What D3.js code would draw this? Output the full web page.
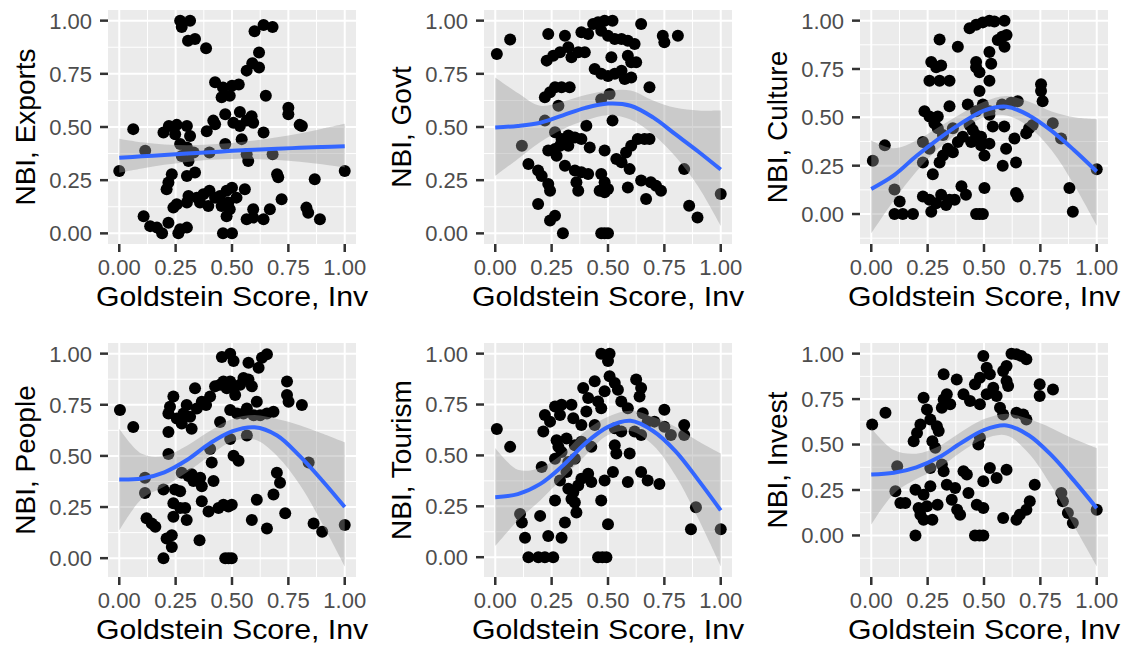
<!DOCTYPE html>
<meta charset="utf-8">
<head>
<script src="https://cdn.jsdelivr.net/npm/d3@7"></script>
<style>
body { margin: 0; background: #fff; font-family: "Liberation Sans", Arial, sans-serif; }
.tick-label { fill: #4d4d4d; font-size: 22px; }
.axis-title { fill: #000; font-size: 28px; }
</style>
</head>
<body>
<script>

var smoothX = [0, 0.1, 0.2, 0.3, 0.4, 0.5, 0.6, 0.7, 0.8, 0.9, 1.0];
var majorBreaks = [0, 0.25, 0.5, 0.75, 1];
var tickLabels = ["0.00", "0.25", "0.50", "0.75", "1.00"];

// --- Exports
var ptsExports = [[0.27,1],[0.314,1],[0.277,0.97],[0.305,0.906],[0.336,0.914],[0.385,0.87],
  [0.60,0.95],[0.64,0.98],[0.68,0.97],[0.62,0.85],[0.59,0.80],[0.62,0.78],[0.565,0.765],
  [0.425,0.71],[0.46,0.686],[0.50,0.694],[0.53,0.70],[0.454,0.64],[0.49,0.647],[0.65,0.647],
  [0.75,0.59],[0.75,0.56],[0.80,0.51],
  [0.47,0.56],[0.535,0.57],[0.587,0.55],[0.565,0.53],[0.417,0.53],[0.255,0.51],[0.30,0.505],[0.22,0.505],[0.062,0.49],
  [0.196,0.474],[0.248,0.466],[0.314,0.458],[0.388,0.48],[0.425,0.513],[0.506,0.52],[0.535,0.505],[0.594,0.52],[0.64,0.474],[0.81,0.505],
  [0.115,0.388],[0.27,0.42],[0.30,0.404],[0.277,0.364],[0.33,0.38],[0.307,0.34],[0.40,0.38],[0.47,0.42],[0.543,0.443],[0.572,0.34],[0.565,0.372],[0.68,0.372],
  [0,0.293],[1,0.293],[0.70,0.278],[0.705,0.264],[0.867,0.254],
  [0.233,0.278],[0.30,0.27],[0.336,0.286],[0.218,0.239],[0.21,0.207],[0.255,0.137],[0.24,0.121],[0.30,0.145],[0.307,0.176],[0.344,0.168],
  [0.373,0.184],[0.40,0.20],[0.425,0.168],[0.447,0.176],[0.476,0.20],[0.50,0.215],[0.52,0.168],[0.557,0.207],[0.358,0.145],[0.395,0.129],
  [0.454,0.129],[0.484,0.145],[0.49,0.113],[0.476,0.081],[0.72,0.16],[0.83,0.121],[0.838,0.097],[0.89,0.066],[0.108,0.081],[0.137,0.034],
  [0.167,0.027],[0.19,0],[0.218,0.05],[0.27,0.019],[0.30,0.027],[0.262,0],[0.46,0],[0.50,0],[0.594,0.113],[0.594,0.074],
  [0.64,0.066],[0.668,0.113],[0.565,0.066]];
var fitExports = [0.355,0.362,0.368,0.375,0.381,0.388,0.393,0.398,0.402,0.406,0.41];
var loExports  = [0.285,0.305,0.322,0.336,0.346,0.35,0.35,0.345,0.337,0.325,0.31];
var hiExports  = [0.445,0.428,0.418,0.414,0.418,0.425,0.436,0.452,0.47,0.492,0.515];

// --- Govt
var ptsGovt = [[0.007,0.843],[0.066,0.911],[0.118,0.412],[0.147,0.326],[0.19,0.295],[0.206,0.27],[0.235,0.232],[0.243,0.20],[0.19,0.138],
  [0.243,0.06],[0.265,0.083],[0.30,0],[0.22,0.64],[0.243,0.663],[0.265,0.687],[0.294,0.687],[0.33,0.687],[0.235,0.937],[0.228,0.812],
  [0.257,0.835],[0.287,0.851],[0.309,0.929],[0.324,0.875],[0.338,0.828],[0.368,0.851],[0.397,0.851],[0.382,0.945],[0.412,0.937],
  [0.434,0.984],[0.456,0.992],[0.485,1],[0.52,1],[0.47,0.953],[0.50,0.929],[0.53,0.914],[0.56,0.914],[0.588,0.906],[0.618,0.89],
  [0.647,0.984],[0.515,0.828],[0.588,0.835],[0.603,0.804],[0.625,0.804],[0.441,0.773],[0.47,0.75],[0.50,0.74],[0.53,0.75],[0.56,0.765],
  [0.574,0.726],[0.603,0.733],[0.684,0.687],[0.743,0.929],[0.75,0.898],[0.81,0.929],[0.507,0.655],[0.28,0.60],[0.47,0.63],[0.52,0.53],
  [0.22,0.53],[0.404,0.506],[0.265,0.475],[0.265,0.397],[0.235,0.389],[0.272,0.365],[0.294,0.444],[0.324,0.46],[0.353,0.451],[0.382,0.444],
  [0.324,0.412],[0.287,0.412],[0.419,0.404],[0.485,0.389],[0.412,0.279],[0.382,0.287],[0.353,0.295],[0.309,0.318],[0.36,0.24],[0.368,0.20],
  [0.47,0.279],[0.485,0.24],[0.463,0.20],[0.485,0.193],[0.50,0.208],[0.537,0.35],[0.56,0.334],[0.58,0.38],[0.603,0.412],[0.632,0.444],
  [0.662,0.444],[0.684,0.444],[0.596,0.302],[0.588,0.216],[0.647,0.248],[0.669,0.161],[0.69,0.24],[0.713,0.224],[0.735,0.20],
  [0.47,0],[0.50,0],[0.485,0],[0.838,0.302],[0.86,0.13],[0.897,0.075],[1,0.185]];
var fitGovt = [0.498,0.505,0.52,0.555,0.59,0.61,0.60,0.545,0.465,0.385,0.30];
var loGovt  = [0.27,0.35,0.43,0.49,0.53,0.555,0.535,0.465,0.36,0.22,0.035];
var hiGovt  = [0.733,0.66,0.60,0.62,0.65,0.67,0.672,0.625,0.59,0.578,0.577];

// --- Culture
var ptsCulture = [[0.007,0.276],[0.06,0.355],[0.103,0.127],[0.126,0.065],[0.103,0],[0.14,0],[0.185,0],[0.229,0.091],[0.258,0.074],
  [0.266,0.012],[0.288,0.056],[0.31,0.10],[0.332,0.047],[0.37,0.074],[0.42,0.10],[0.229,0.267],[0.273,0.206],[0.303,0.267],[0.318,0.302],
  [0.34,0.337],[0.362,0.32],[0.384,0.373],[0.406,0.399],[0.229,0.373],[0.236,0.531],[0.258,0.504],[0.28,0.469],[0.295,0.443],[0.318,0.408],
  [0.295,0.504],[0.347,0.557],[0.362,0.443],[0.266,0.786],[0.288,0.759],[0.31,0.768],[0.258,0.689],[0.303,0.689],[0.347,0.689],[0.303,0.902],
  [0.384,0.865],[0.436,0.961],[0.465,0.979],[0.495,0.991],[0.524,1],[0.546,0.996],[0.591,1],[0.561,0.90],[0.58,0.917],[0.60,0.926],
  [0.591,0.865],[0.524,0.838],[0.465,0.786],[0.465,0.759],[0.48,0.733],[0.48,0.636],[0.532,0.777],[0.524,0.689],[0.428,0.566],[0.465,0.531],
  [0.495,0.566],[0.524,0.531],[0.524,0.513],[0.539,0.452],[0.58,0.566],[0.62,0.575],[0.65,0.583],[0.436,0.46],[0.45,0.434],[0.465,0.408],
  [0.487,0.399],[0.443,0.373],[0.487,0.355],[0.502,0.302],[0.524,0.364],[0.59,0.452],[0.583,0.25],[0.598,0.337],[0.635,0.39],[0.642,0.267],
  [0.642,0.109],[0.65,0.091],[0.687,0.417],[0.70,0.443],[0.716,0.46],[0.753,0.671],[0.753,0.636],[0.76,0.583],[0.805,0.469],[0.842,0.39],
  [0.879,0.135],[0.894,0.012],[1,0.232],[0.502,0.135],[0.48,0],[0.495,0],[0.465,0],[0.40,0.144],[0.347,0.074],[0.258,0.337]];
var fitCulture = [0.13,0.20,0.30,0.39,0.47,0.535,0.555,0.51,0.43,0.33,0.22];
var loCulture  = [-0.10,0.07,0.22,0.34,0.43,0.50,0.51,0.45,0.33,0.15,-0.06];
var hiCulture  = [0.38,0.34,0.38,0.45,0.52,0.58,0.61,0.58,0.53,0.50,0.49];

// --- People
var ptsPeople = [[0.003,0.724],[0.062,0.641],[0.114,0.393],[0.114,0.319],[0.121,0.195],[0.144,0.17],[0.16,0.154],[0.196,0.336],[0.196,0],
  [0.218,0.509],[0.21,0.096],[0.233,0.112],[0.233,0.055],[0.24,0.203],[0.24,0.269],[0.247,0.336],[0.27,0.327],[0.27,0.245],[0.292,0.245],
  [0.299,0.187],[0.277,0.418],[0.307,0.402],[0.321,0.41],[0.329,0.377],[0.359,0.393],[0.366,0.352],[0.366,0.278],[0.356,0.088],[0.396,0.228],
  [0.41,0.468],[0.418,0.377],[0.403,0.534],[0.218,0.617],[0.218,0.707],[0.225,0.74],[0.24,0.79],[0.255,0.683],[0.277,0.658],[0.285,0.707],
  [0.299,0.749],[0.314,0.691],[0.321,0.633],[0.336,0.831],[0.344,0.732],[0.366,0.765],[0.385,0.749],[0.403,0.79],[0.425,0.84],[0.447,0.848],
  [0.462,0.864],[0.477,0.831],[0.492,0.864],[0.507,0.831],[0.455,0.983],[0.492,1],[0.507,0.964],[0.514,0.798],[0.536,0.848],[0.551,0.881],
  [0.573,0.873],[0.588,0.84],[0.573,0.955],[0.618,0.931],[0.633,0.98],[0.655,0.997],[0.61,0.765],[0.566,0.732],[0.492,0.724],[0.522,0.707],
  [0.551,0.707],[0.596,0.699],[0.625,0.699],[0.655,0.707],[0.684,0.716],[0.447,0.666],[0.492,0.583],[0.566,0.60],[0.507,0.501],[0.529,0.476],
  [0.744,0.864],[0.744,0.798],[0.751,0.765],[0.81,0.749],[0.84,0.468],[0.44,0.245],[0.462,0.261],[0.484,0.253],[0.499,0.261],[0.47,0],
  [0.499,0],[0.485,0],[0.588,0.187],[0.61,0.286],[0.655,0.145],[0.684,0.311],[0.699,0.418],[0.713,0.369],[0.736,0.22],[0.862,0.17],
  [0.90,0.129],[1,0.162]];
var fitPeople = [0.385,0.39,0.42,0.48,0.56,0.62,0.64,0.60,0.50,0.38,0.25];
var loPeople  = [0.135,0.29,0.35,0.42,0.50,0.57,0.58,0.50,0.36,0.17,-0.04];
var hiPeople  = [0.633,0.51,0.50,0.55,0.62,0.68,0.70,0.68,0.65,0.61,0.567];

// --- Tourism
var ptsTourism = [[0.007,0.63],[0.066,0.542],[0.11,0.212],[0.118,0.17],[0.132,0.096],[0.147,0],[0.191,0],[0.199,0.203],[0.22,0],
  [0.235,0.104],[0.257,0],[0.265,0.278],[0.294,0.096],[0.309,0.17],[0.206,0.443],[0.213,0.617],[0.22,0.699],[0.243,0.666],[0.265,0.74],
  [0.287,0.699],[0.294,0.749],[0.272,0.575],[0.28,0.542],[0.294,0.517],[0.316,0.583],[0.265,0.484],[0.287,0.377],[0.316,0.418],[0.324,0.468],
  [0.338,0.749],[0.346,0.683],[0.382,0.65],[0.404,0.716],[0.39,0.831],[0.412,0.782],[0.441,0.864],[0.456,0.765],[0.47,0.732],[0.485,0.815],
  [0.47,1],[0.507,1],[0.50,0.964],[0.507,0.889],[0.53,0.856],[0.544,0.823],[0.559,0.765],[0.588,0.732],[0.625,0.873],[0.647,0.831],
  [0.64,0.79],[0.654,0.707],[0.676,0.666],[0.706,0.666],[0.75,0.724],[0.75,0.641],[0.779,0.60],[0.838,0.65],[0.838,0.60],[0.53,0.633],
  [0.559,0.617],[0.618,0.617],[0.647,0.60],[0.441,0.65],[0.426,0.542],[0.382,0.567],[0.353,0.55],[0.353,0.484],[0.382,0.385],[0.412,0.41],
  [0.426,0.369],[0.324,0.336],[0.346,0.319],[0.338,0.286],[0.353,0.269],[0.36,0.22],[0.368,0.352],[0.485,0.377],[0.522,0.418],[0.537,0.509],
  [0.596,0.509],[0.53,0.55],[0.588,0.369],[0.647,0.418],[0.676,0.377],[0.728,0.36],[0.47,0.278],[0.50,0.162],[0.456,0],[0.493,0],
  [0.475,0],[0.868,0.137],[0.89,0.245],[1,0.137]];
var fitTourism = [0.295,0.31,0.36,0.45,0.56,0.64,0.67,0.62,0.52,0.38,0.23];
var loTourism  = [0.055,0.18,0.28,0.39,0.50,0.60,0.62,0.55,0.40,0.19,-0.045];
var hiTourism  = [0.537,0.43,0.44,0.51,0.62,0.69,0.72,0.69,0.64,0.57,0.51];

// --- Invest
var ptsInvest = [[0.004,0.61],[0.063,0.675],[0.107,0.243],[0.115,0.38],[0.129,0.178],[0.151,0.178],[0.196,0],[0.196,0.252],[0.21,0.151],
  [0.218,0.114],[0.232,0.224],[0.232,0.086],[0.247,0.16],[0.262,0.27],[0.271,0.086],[0.294,0.169],[0.313,0.39],[0.321,0.353],[0.335,0.279],
  [0.357,0.197],[0.372,0.261],[0.381,0.142],[0.394,0.114],[0.409,0.353],[0.424,0.335],[0.431,0.233],[0.468,0.169],[0.497,0.151],[0.497,0.298],
  [0.526,0.371],[0.556,0.316],[0.60,0.362],[0.46,0],[0.497,0],[0.48,0],[0.585,0.096],[0.644,0.086],[0.659,0.114],[0.688,0.142],[0.703,0.188],
  [0.725,0.279],[0.843,0.233],[0.85,0.188],[0.872,0.123],[0.894,0.068],[1,0.142],[0.188,0.518],[0.203,0.564],[0.218,0.61],[0.232,0.757],
  [0.247,0.693],[0.262,0.638],[0.271,0.518],[0.284,0.482],[0.291,0.601],[0.299,0.574],[0.313,0.702],[0.321,0.748],[0.335,0.776],[0.35,0.721],
  [0.379,0.858],[0.409,0.776],[0.438,0.739],[0.46,0.831],[0.482,0.868],[0.497,0.987],[0.512,0.923],[0.526,0.886],[0.541,0.812],[0.556,0.767],
  [0.482,0.721],[0.512,0.776],[0.571,0.702],[0.585,0.665],[0.60,0.849],[0.607,0.822],[0.585,0.904],[0.60,0.932],[0.622,1],[0.644,0.996],
  [0.666,0.987],[0.688,0.969],[0.644,0.675],[0.674,0.665],[0.688,0.638],[0.747,0.831],[0.747,0.767],[0.806,0.803],[0.321,0.886],[0.475,0.50],
  [0.482,0.537],[0.262,0.371]];
var fitInvest = [0.335,0.345,0.375,0.43,0.51,0.58,0.605,0.55,0.44,0.30,0.15];
var loInvest  = [0.06,0.23,0.31,0.37,0.46,0.53,0.55,0.45,0.27,0.05,-0.17];
var hiInvest  = [0.59,0.47,0.45,0.49,0.57,0.64,0.67,0.64,0.59,0.53,0.48];

var panels = [
  {label: "NBI, Exports", pts: ptsExports, fit: fitExports, lo: loExports, hi: hiExports},
  {label: "NBI, Govt",    pts: ptsGovt,    fit: fitGovt,    lo: loGovt,    hi: hiGovt},
  {label: "NBI, Culture", pts: ptsCulture, fit: fitCulture, lo: loCulture, hi: hiCulture},
  {label: "NBI, People",  pts: ptsPeople,  fit: fitPeople,  lo: loPeople,  hi: hiPeople},
  {label: "NBI, Tourism", pts: ptsTourism, fit: fitTourism, lo: loTourism, hi: hiTourism},
  {label: "NBI, Invest",  pts: ptsInvest,  fit: fitInvest,  lo: loInvest,  hi: hiInvest}
];

var colLeft = [108, 484, 860], rowTop = [10, 343],
    panelW = 248, panelH = 234;

var svg = d3.select("body").append("svg")
    .attr("width", 1126)
    .attr("height", 645);

// ggplot style 5% expansion on each side
function expanded(vals) {
  var e = d3.extent(vals), pad = (e[1] - e[0]) * 0.05;
  return [e[0] - pad, e[1] + pad];
}

var smoothCurve = d3.curveCatmullRom.alpha(0.5);

panels.forEach(function(p, i) {
  var left = colLeft[i % 3], top = rowTop[Math.floor(i / 3)];
  var bottom = top + panelH, right = left + panelW;

  var x = d3.scaleLinear()
      .domain(expanded(p.pts.map(function(d) { return d[0]; }).concat(smoothX)))
      .range([left, right]);
  var y = d3.scaleLinear()
      .domain(expanded(p.pts.map(function(d) { return d[1]; }).concat(p.lo, p.hi)))
      .range([bottom, top]);

  var g = svg.append("g");

  g.append("rect")
      .attr("x", left).attr("y", top)
      .attr("width", panelW).attr("height", panelH)
      .attr("fill", "#ebebeb");

  // grid: minor halfway between majors, then majors
  var minor = d3.range(-0.375, 1.4, 0.25);
  var major = d3.range(-0.5, 1.01, 0.25);
  var inX = function(v) { return v >= x.domain()[0] && v <= x.domain()[1]; };
  var inY = function(v) { return v >= y.domain()[0] && v <= y.domain()[1]; };

  g.selectAll(".vminor").data(minor.filter(inX)).enter().append("line")
      .attr("x1", x).attr("x2", x).attr("y1", top).attr("y2", bottom)
      .attr("stroke", "#fff").attr("stroke-width", 1);
  g.selectAll(".hminor").data(minor.filter(inY)).enter().append("line")
      .attr("y1", y).attr("y2", y).attr("x1", left).attr("x2", right)
      .attr("stroke", "#fff").attr("stroke-width", 1);
  g.selectAll(".vmajor").data(major.filter(inX)).enter().append("line")
      .attr("x1", x).attr("x2", x).attr("y1", top).attr("y2", bottom)
      .attr("stroke", "#fff").attr("stroke-width", 2);
  g.selectAll(".hmajor").data(major.filter(inY)).enter().append("line")
      .attr("y1", y).attr("y2", y).attr("x1", left).attr("x2", right)
      .attr("stroke", "#fff").attr("stroke-width", 2);

  g.selectAll(".dot").data(p.pts).enter().append("circle")
      .attr("cx", function(d) { return x(d[0]); })
      .attr("cy", function(d) { return y(d[1]); })
      .attr("r", 6)
      .attr("fill", "#000");

  var band = d3.area()
      .x(function(d, k) { return x(smoothX[k]); })
      .y0(function(d, k) { return y(p.lo[k]); })
      .y1(function(d, k) { return y(p.hi[k]); })
      .curve(smoothCurve);
  g.append("path")
      .attr("d", band(smoothX))
      .attr("fill", "#999999")
      .attr("fill-opacity", 0.4);

  var line = d3.line()
      .x(function(d, k) { return x(smoothX[k]); })
      .y(function(d) { return y(d); })
      .curve(smoothCurve);
  g.append("path")
      .attr("d", line(p.fit))
      .attr("fill", "none")
      .attr("stroke", "#3366ff")
      .attr("stroke-width", 4);

  // axes, drawn by hand in ggplot style
  g.selectAll(".xt").data(majorBreaks).enter().append("line")
      .attr("x1", x).attr("x2", x).attr("y1", bottom).attr("y2", bottom + 8)
      .attr("stroke", "#333").attr("stroke-width", 2.5);
  g.selectAll(".xl").data(majorBreaks).enter().append("text")
      .attr("class", "tick-label")
      .attr("x", x).attr("y", bottom + 31)
      .attr("text-anchor", "middle")
      .text(function(d, k) { return tickLabels[k]; });

  g.selectAll(".yt").data(majorBreaks).enter().append("line")
      .attr("y1", y).attr("y2", y).attr("x1", left - 8).attr("x2", left)
      .attr("stroke", "#333").attr("stroke-width", 2.5);
  g.selectAll(".yl").data(majorBreaks).enter().append("text")
      .attr("class", "tick-label")
      .attr("x", left - 16).attr("y", y)
      .attr("dy", "0.36em")
      .attr("text-anchor", "end")
      .text(function(d, k) { return tickLabels[k]; });

  // the reference title is a little wider than the font gives, so stretch it
  g.append("text")
      .attr("class", "axis-title")
      .attr("transform", "translate(" + ((left + right) / 2) + "," + (bottom + 62) + ") scale(1.08,1)")
      .attr("text-anchor", "middle")
      .text("Goldstein Score, Inv");

  g.append("text")
      .attr("class", "axis-title")
      .attr("transform", "translate(" + (left - 73) + "," + (top + panelH / 2) + ") rotate(-90)")
      .attr("text-anchor", "middle")
      .text(p.label);
});

</script>
</body>
